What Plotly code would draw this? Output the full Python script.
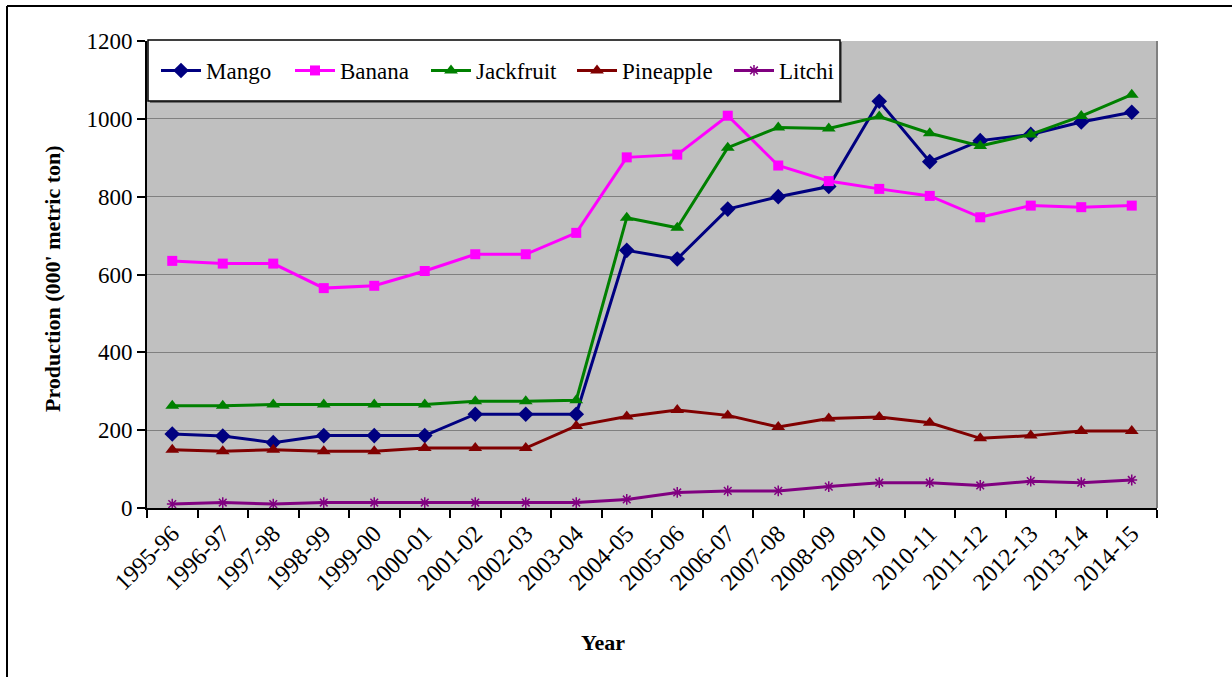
import plotly.graph_objects as go

# Fruit production by year (000' metric ton)
years = ["1995-96", "1996-97", "1997-98", "1998-99", "1999-00", "2000-01", "2001-02",
         "2002-03", "2003-04", "2004-05", "2005-06", "2006-07", "2007-08", "2008-09",
         "2009-10", "2010-11", "2011-12", "2012-13", "2013-14", "2014-15"]

mango = [190, 185, 168, 186, 186, 186, 241, 241, 241, 662, 640, 768, 800, 826,
         1045, 890, 944, 960, 992, 1017]
banana = [635, 628, 628, 565, 571, 609, 652, 652, 707, 901, 908, 1008, 880, 840,
          820, 802, 747, 777, 773, 777]
jackfruit = [263, 263, 266, 266, 266, 266, 274, 274, 277, 746, 720, 926, 978, 975,
             1006, 963, 930, 960, 1007, 1062]
pineapple = [150, 146, 150, 146, 146, 154, 154, 154, 211, 235, 252, 238, 208, 230,
             234, 219, 179, 186, 198, 198]
litchi = [10, 14, 10, 14, 14, 14, 14, 14, 14, 22, 40, 44, 44, 55, 65, 65, 58, 69,
          65, 72]

W, H = 1232, 677
L, R, T, B = 147, 75, 41, 169
PW, PH = W - L - R, H - T - B


def px(x):
    return (x - L) / PW


def py(y):
    return (H - B - y) / PH


FONT = "Liberation Serif, Times New Roman, serif"

# name, values, colour, marker, marker size, legend entry left edge (px)
series = [
    ("Mango", mango, "#000080", "diamond", 12, 156),
    ("Banana", banana, "#FF00FF", "square", 10, 290),
    ("Jackfruit", jackfruit, "#008000", "triangle-up", 12, 426),
    ("Pineapple", pineapple, "#800000", "triangle-up", 12, 572),
    ("Litchi", litchi, "#800080", "asterisk-open", 9, 729),
]

fig = go.Figure()
legends = {}
for i, (name, vals, color, sym, size, lx) in enumerate(series):
    key = "legend" if i == 0 else f"legend{i + 1}"
    fig.add_trace(go.Scatter(
        x=years, y=vals, name=name, mode="lines+markers",
        line=dict(color=color, width=3),
        marker=dict(symbol=sym, size=size, color=color,
                    line=dict(color=color, width=1.5 if sym.endswith("open") else 0)),
        legend=key,
    ))
    legends[key] = dict(orientation="h", x=px(lx), y=py(70.5), xanchor="left",
                        yanchor="middle", bgcolor="rgba(0,0,0,0)", borderwidth=0,
                        font=dict(size=23, family=FONT), itemwidth=40)

shapes = [
    # outer frame (top and left edges)
    dict(type="line", xref="paper", yref="paper", x0=px(7), x1=px(W), y0=py(6), y1=py(6),
         line=dict(color="black", width=2)),
    dict(type="line", xref="paper", yref="paper", x0=px(7), x1=px(7), y0=py(6), y1=py(H),
         line=dict(color="black", width=2)),
    # plot area right border
    dict(type="line", xref="paper", yref="paper", x0=1, x1=1, y0=0, y1=1,
         line=dict(color="#808080", width=2)),
    # legend box shadow and box
    dict(type="rect", xref="paper", yref="paper", x0=px(150), x1=px(842), y0=py(103), y1=py(42),
         line=dict(width=0), fillcolor="#707070", layer="above"),
    dict(type="rect", xref="paper", yref="paper", x0=px(148), x1=px(840), y0=py(101), y1=py(40),
         line=dict(color="black", width=1.5), fillcolor="white", layer="above"),
]

fig.update_layout(
    width=W, height=H,
    margin=dict(l=L, r=R, t=T, b=B),
    paper_bgcolor="white",
    plot_bgcolor="#C0C0C0",
    font=dict(family=FONT, size=22, color="black"),
    showlegend=True,
    shapes=shapes,
    annotations=[
        dict(text="<b>Production (000' metric ton)</b>", xref="paper", yref="paper",
             x=px(52), y=py(279), xanchor="center", yanchor="middle",
             showarrow=False, textangle=-90, font=dict(size=22, family=FONT)),
        dict(text="<b>Year</b>", xref="paper", yref="paper",
             x=px(603), y=py(642), xanchor="center", yanchor="middle",
             showarrow=False, font=dict(size=22, family=FONT)),
    ],
    **legends,
)

fig.update_xaxes(
    type="category", range=[-0.5, len(years) - 0.5],
    tickangle=-45, tickson="boundaries", ticks="outside", ticklen=8,
    tickcolor="black", tickwidth=1.5,
    showline=True, linecolor="black", linewidth=2,
    showgrid=False, zeroline=False,
    tickfont=dict(size=24, family=FONT),
)
fig.update_yaxes(
    range=[0, 1200], tickvals=[0, 200, 400, 600, 800, 1000, 1200],
    ticks="outside", ticklen=8, tickcolor="black", tickwidth=1.5,
    showline=True, linecolor="black", linewidth=2,
    showgrid=True, gridcolor="#808080", gridwidth=1,
    zeroline=False, tickfont=dict(size=23, family=FONT),
)

fig.write_html("out.html")
